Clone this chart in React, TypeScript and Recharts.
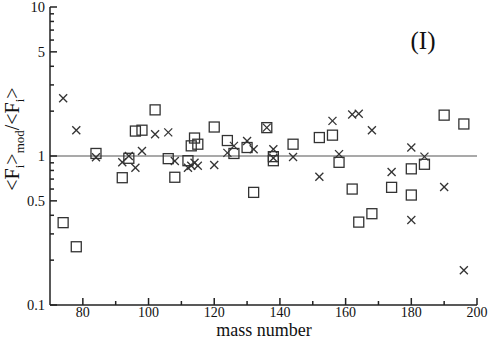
import React from "react";
import { ScatterChart, Scatter, XAxis, YAxis, ReferenceLine } from "recharts";

// mass numbers for the squares and the crosses (same nuclei)
const massNumbers = [74, 78, 84, 92, 94, 96, 98, 102, 106, 108, 112, 113, 114, 115, 120, 124, 126, 130, 132, 136, 138, 138, 144, 152, 156, 158, 162, 164, 168, 174, 180, 180, 184, 190, 196];
const squareRatios = [0.357, 0.246, 1.04, 0.715, 0.965, 1.47, 1.49, 2.04, 0.96, 0.72, 0.93, 1.17, 1.32, 1.2, 1.565, 1.27, 1.04, 1.14, 0.57, 1.55, 0.99, 0.93, 1.2, 1.33, 1.38, 0.907, 0.6, 0.36, 0.41, 0.616, 0.82, 0.547, 0.88, 1.88, 1.64];
const crossRatios = [2.44, 1.49, 0.98, 0.907, 1.0, 0.835, 1.08, 1.4, 1.44, 0.926, 0.835, 0.86, 0.9, 0.86, 0.87, 1.05, 1.17, 1.26, 1.11, 1.55, 1.11, 0.97, 0.985, 0.726, 1.72, 1.03, 1.9, 1.92, 1.49, 0.78, 1.14, 0.372, 0.99, 0.62, 0.171];

const xTicks = [80, 90, 100, 110, 120, 130, 140, 150, 160, 170, 180, 190, 200];
const xLabelled = [80, 100, 120, 140, 160, 180, 200];
const yTicks = [0.1, 0.2, 0.3, 0.4, 0.5, 0.6, 0.7, 0.8, 0.9, 1, 2, 3, 4, 5, 6, 7, 8, 9, 10];
const yLabelled = [0.1, 0.5, 1, 5, 10];

const squares = massNumbers.map((m, i) => ({ x: m, y: squareRatios[i] }));
const crosses = massNumbers.map((m, i) => ({ x: m, y: crossRatios[i] }));

const FONT = '"Liberation Serif", "Times New Roman", serif';
const INK = "#222";

const XTick = (props: any) => {
  const { x, y, payload, top } = props;
  const major = xLabelled.includes(payload.value);
  const len = major ? 7 : 4;
  return (
    <g>
      <line x1={x} x2={x} y1={y} y2={top ? y + len : y - len} stroke={INK} strokeWidth={1.5} />
      {!top && major && (
        <text x={x} y={y + 12} textAnchor="middle" fontSize={14} fontFamily={FONT} fill="#111">
          {payload.value}
        </text>
      )}
    </g>
  );
};

const YTick = (props: any) => {
  const { x, y, payload, right } = props;
  const major = yLabelled.includes(payload.value);
  const len = major ? 7 : 4;
  return (
    <g>
      <line x1={x} x2={right ? x - len : x + len} y1={y} y2={y} stroke={INK} strokeWidth={1.5} />
      {!right && major && (
        <text x={x - 5} y={y + 5} textAnchor="end" fontSize={14.5} fontFamily={FONT} fill="#111">
          {payload.value}
        </text>
      )}
    </g>
  );
};

const Square = (props: any) => (
  <rect x={props.cx - 5} y={props.cy - 5} width={10} height={10} fill="none" stroke="#333" strokeWidth={1.3} />
);

const Cross = (props: any) => (
  <g stroke="#333" strokeWidth={1.3}>
    <line x1={props.cx - 4} y1={props.cy - 4} x2={props.cx + 4} y2={props.cy + 4} />
    <line x1={props.cx - 4} y1={props.cy + 4} x2={props.cx + 4} y2={props.cy - 4} />
  </g>
);

export default function App() {
  return (
    <div style={{ position: "absolute", left: 0, top: 0, width: 491, height: 340, background: "#fff" }}>
      <ScatterChart width={491} height={340} margin={{ top: 7, right: 14, bottom: 0, left: 0 }}>
        <XAxis xAxisId="b" dataKey="x" type="number" domain={[70, 200]} ticks={xTicks} interval={0}
          height={35} tickSize={0} tickMargin={0} tickLine={false} tick={<XTick />}
          axisLine={{ stroke: INK, strokeWidth: 1.5 }} allowDataOverflow />
        <XAxis xAxisId="t" orientation="top" dataKey="x" type="number" domain={[70, 200]} ticks={xTicks} interval={0}
          height={0} tickSize={0} tickMargin={0} tickLine={false} tick={<XTick top />}
          axisLine={{ stroke: INK, strokeWidth: 1.5 }} allowDataOverflow />
        <YAxis yAxisId="l" dataKey="y" type="number" scale="log" domain={[0.1, 10]} ticks={yTicks} interval={0}
          width={50} tickSize={0} tickMargin={0} tickLine={false} tick={<YTick />}
          axisLine={{ stroke: INK, strokeWidth: 1.5 }} allowDataOverflow />
        <YAxis yAxisId="r" orientation="right" dataKey="y" type="number" scale="log" domain={[0.1, 10]} ticks={yTicks} interval={0}
          width={0} tickSize={0} tickMargin={0} tickLine={false} tick={<YTick right />}
          axisLine={{ stroke: INK, strokeWidth: 1.5 }} allowDataOverflow />
        <ReferenceLine xAxisId="b" yAxisId="l" y={1} stroke="#555" strokeWidth={1.2} />
        <Scatter xAxisId="b" yAxisId="l" data={squares} shape={<Square />} isAnimationActive={false} />
        <Scatter xAxisId="b" yAxisId="l" data={crosses} shape={<Cross />} isAnimationActive={false} />
      </ScatterChart>
      <svg width={491} height={340} style={{ position: "absolute", left: 0, top: 0, pointerEvents: "none" }}>
        <text x={264} y={336} textAnchor="middle" fontSize={18} fontFamily={FONT} fill="#111">mass number</text>
        <text x={423} y={49} textAnchor="middle" fontSize={25} fontFamily={FONT} fill="#111">(I)</text>
        <text transform="translate(19,139) rotate(-90)" textAnchor="middle" fontSize={20} fontFamily={FONT} fill="#111">
          {"<F"}
          <tspan fontSize={13} dy={5}>i</tspan>
          <tspan dy={-5}>{">"}</tspan>
          <tspan fontSize={13} dy={5}>mod</tspan>
          <tspan dy={-5}>{"/<F"}</tspan>
          <tspan fontSize={13} dy={5}>i</tspan>
          <tspan dy={-5}>{">"}</tspan>
        </text>
      </svg>
    </div>
  );
}
